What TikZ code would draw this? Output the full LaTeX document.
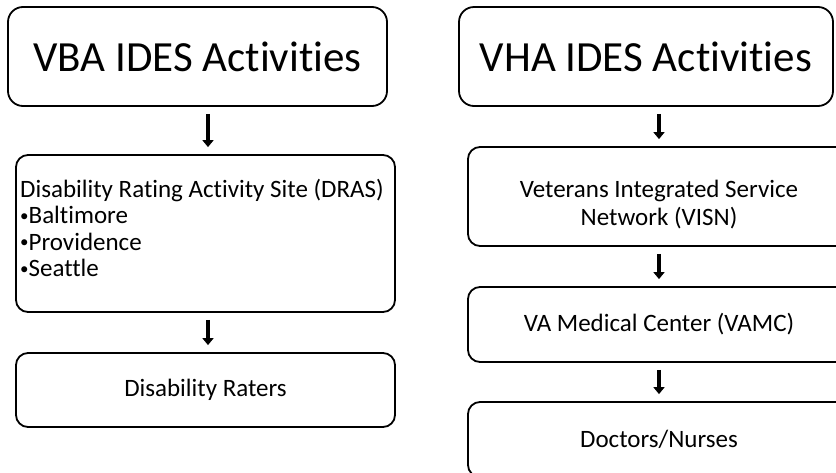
\documentclass[tikz,border=0pt]{standalone}
\usepackage{fontspec}
\setmainfont{Carlito}[Ligatures=NoCommon]
\usetikzlibrary{arrows.meta}

\newcommand{\blt}{{\fontsize{17}{17}\selectfont\raisebox{2.5pt}{\textbullet}}}

\tikzset{
    box/.style={draw, line width=1.8pt, rounded corners=12pt, inner sep=0pt},
    titlebox/.style={box, rounded corners=15pt, minimum height=99pt,
        font=\fontsize{43}{51}\selectfont},
    itembox/.style={box, minimum width=382pt, font=\fontsize{25}{27.5}\selectfont},
    itemtext/.style={anchor=north, inner sep=0pt},
    arr/.style={line width=4pt, -{Triangle[width=11pt,length=7pt]},
        shorten <=7pt, shorten >=7pt}
}

\begin{document}
\begin{tikzpicture}[x=1pt,y=-1pt]
        \clip (0,0) rectangle (836,472);
        % Colonna VBA
        \node[titlebox, minimum width=379pt] (vba) at (197.5,56.5) {VBA IDES Activities};
        \node[itembox, minimum width=379pt, minimum height=157pt] (dras) at (205.5,233.5) {};
        \node[itemtext, anchor=north west, align=left,
              font=\fontsize{25}{26.5}\selectfont] (drasList) at (20,179)
            {Disability Rating Activity Site (DRAS)\\
             \blt Baltimore\\
             \blt Providence\\
             \blt Seattle};
        \node[itembox, minimum width=379pt, minimum height=74pt] (raters) at (205.5,390) {Disability Raters};
        % Colonna VHA
        \node[itemtext, align=center, font=\fontsize{25}{27.5}\selectfont] (visnText) at (659,180)
            {Veterans Integrated Service\\Network (VISN)};
        \node[titlebox, minimum width=374pt] (vha) at (646,56.5) {VHA IDES Activities};
        \node[itembox, minimum height=99pt] (visn) at (659,196.5) {};
        \node[itembox, minimum height=75pt] (vamc) at (659,324.5) {VA Medical Center (VAMC)};
        \node[itembox, minimum height=75pt] (docs) at (659,439.5) {Doctors/Nurses};
        % Frecce
        \draw[arr] (vba.south -| 208,0) -- (dras.north -| 208,0);
        \draw[arr] (dras.south -| 208,0) -- (raters.north -| 208,0);
        \draw[arr] (vha.south -| visn) -- (visn.north);
        \draw[arr] (visn) -- (vamc);
        \draw[arr] (vamc) -- (docs);
    \end{tikzpicture}
\end{document}
